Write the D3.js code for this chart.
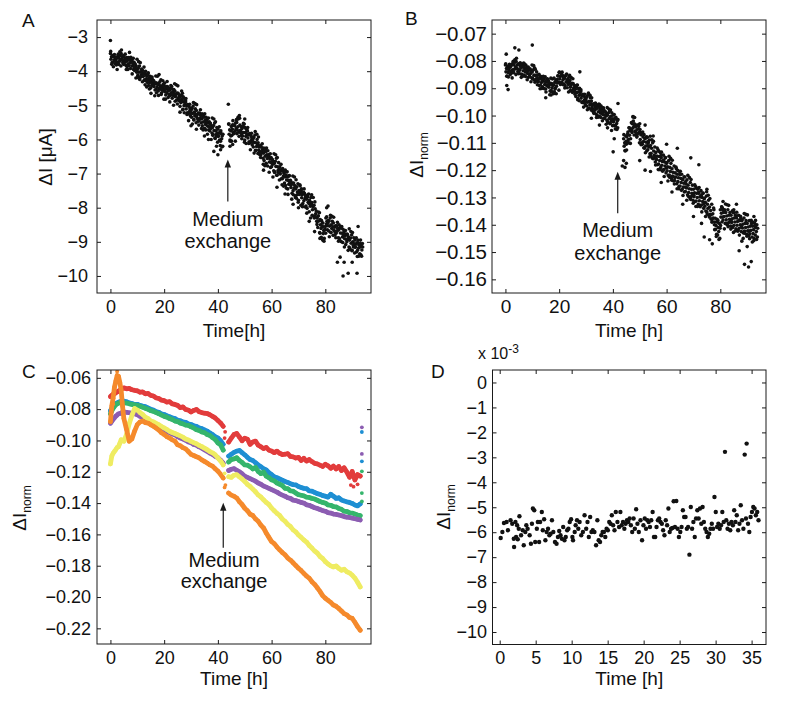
<!DOCTYPE html>
<html><head><meta charset="utf-8">
<script src="https://cdn.jsdelivr.net/npm/d3@7"></script>
<style>
body{margin:0;background:#fff}
text{font-family:"Liberation Sans",Arial,Helvetica,sans-serif;fill:#111}
</style>
</head><body>
<svg id="chart" width="800" height="704"></svg>
<script>
// ---------- DATA ----------
// sub-sample times inside each hour for the dense panels A and B
const subOffsets = [0, 0.2, 0.4, 0.6, 0.8];
const subOffsets2 = [0.1, 0.5, 0.9];

// Panel A: [hour, five readings of ΔI in µA]
const aRows = [
[0,-3.48,-3.65,-3.58,-3.75,-3.54],[1,-3.73,-3.55,-3.67,-3.60,-3.78],[2,-3.66,-3.82,-3.61,-3.73,-3.55],
[3,-3.79,-3.62,-3.71,-3.54,-3.66],[4,-3.48,-3.65,-3.58,-3.75,-3.54],[5,-3.78,-3.60,-3.72,-3.65,-3.83],
[6,-3.71,-3.87,-3.66,-3.78,-3.60],[7,-3.84,-3.67,-3.76,-3.59,-3.71],[8,-3.68,-3.85,-3.78,-3.95,-3.74],
[9,-3.98,-3.80,-3.92,-3.85,-4.03],[10,-3.96,-4.12,-3.91,-4.03,-3.85],[11,-4.19,-4.02,-4.11,-3.94,-4.06],
[12,-3.98,-4.15,-4.08,-4.25,-4.04],[13,-4.28,-4.10,-4.22,-4.15,-4.33],[14,-4.26,-4.42,-4.21,-4.33,-4.15],
[15,-4.49,-4.32,-4.41,-4.24,-4.36],[16,-4.28,-4.45,-4.38,-4.55,-4.34],[17,-4.53,-4.35,-4.47,-4.40,-4.58],
[18,-4.36,-4.52,-4.31,-4.43,-4.25],[19,-4.64,-4.47,-4.56,-4.39,-4.51],[20,-4.43,-4.60,-4.53,-4.70,-4.49],
[21,-4.63,-4.45,-4.57,-4.50,-4.68],[22,-4.56,-4.72,-4.51,-4.63,-4.45],[23,-4.79,-4.62,-4.71,-4.54,-4.66],
[24,-4.58,-4.75,-4.68,-4.85,-4.64],[25,-4.83,-4.65,-4.77,-4.70,-4.88],[26,-4.76,-4.92,-4.71,-4.83,-4.65],
[27,-5.12,-4.90,-5.01,-4.80,-4.96],[28,-4.90,-5.11,-5.02,-5.22,-4.98],[29,-5.25,-5.03,-5.18,-5.10,-5.31],
[30,-5.15,-5.35,-5.09,-5.24,-5.02],[31,-5.42,-5.20,-5.31,-5.10,-5.26],[32,-5.15,-5.36,-5.27,-5.47,-5.23],
[33,-5.45,-5.23,-5.38,-5.30,-5.51],[34,-5.40,-5.60,-5.34,-5.49,-5.27],[35,-5.67,-5.45,-5.56,-5.35,-5.51],
[36,-5.40,-5.61,-5.52,-5.72,-5.48],[37,-5.75,-5.53,-5.68,-5.60,-5.81],[38,-5.65,-5.85,-5.59,-5.74,-5.52],
[39,-5.97,-5.75,-5.86,-5.65,-5.81],[40,-5.70,-5.91,-5.82,-6.02,-5.78],[41,-6.05,-5.83,-5.98,-5.90,-6.20],
[44,-5.55,-5.85,-5.72,-6.05,-5.90],[45,-5.62,-5.88,-5.70,-5.45,-5.80],[46,-5.82,-5.60,-5.75,-5.52,-5.68],
[47,-5.50,-5.72,-5.63,-5.40,-5.78],[48,-5.78,-5.58,-5.73,-5.62,-5.88],[49,-5.68,-5.90,-5.62,-5.80,-5.55],
[50,-6.02,-5.80,-5.91,-5.70,-5.86],[51,-5.75,-5.96,-5.87,-6.07,-5.83],[52,-6.10,-5.88,-6.03,-5.95,-6.16],
[53,-6.00,-6.22,-5.94,-6.09,-5.87],[54,-6.32,-6.10,-6.21,-6.00,-6.16],[55,-6.10,-6.31,-6.22,-6.45,-6.18],
[56,-6.45,-6.23,-6.38,-6.30,-6.55],[57,-6.40,-6.62,-6.34,-6.49,-6.27],[58,-6.70,-6.45,-6.56,-6.33,-6.51],
[59,-6.45,-6.66,-6.57,-6.82,-6.53],[60,-6.80,-6.58,-6.73,-6.65,-6.92],[61,-6.70,-6.95,-6.64,-6.79,-6.55],
[62,-7.05,-6.80,-6.91,-6.68,-6.86],[63,-6.80,-7.01,-6.92,-7.15,-6.88],[64,-7.15,-6.93,-7.08,-7.00,-7.28],
[65,-7.10,-7.35,-7.04,-7.19,-6.95],[66,-7.45,-7.20,-7.31,-7.06,-7.26],[67,-7.20,-7.41,-7.32,-7.58,-7.28],
[68,-7.50,-7.28,-7.43,-7.35,-7.65],[69,-7.45,-7.72,-7.39,-7.54,-7.30],[70,-7.78,-7.50,-7.61,-7.36,-7.56],
[71,-7.50,-7.71,-7.62,-7.88,-7.58],[72,-7.80,-7.58,-7.73,-7.65,-7.95],[73,-7.75,-8.02,-7.69,-7.84,-7.60],
[74,-8.12,-7.85,-7.96,-7.70,-7.91],[75,-7.85,-8.06,-7.97,-8.25,-7.93],[76,-8.25,-8.03,-8.18,-8.10,-8.40],
[77,-8.30,-8.58,-8.24,-8.39,-8.15],[78,-8.75,-8.50,-8.61,-8.38,-8.56],[79,-8.55,-8.76,-8.67,-8.90,-8.63],
[80,-8.55,-8.30,-8.48,-8.40,-8.65],[81,-8.45,-8.68,-8.39,-8.54,-8.30],[82,-8.72,-8.50,-8.61,-8.40,-8.56],
[83,-8.45,-8.66,-8.57,-8.80,-8.53],[84,-8.75,-8.53,-8.68,-8.60,-8.88],[85,-8.65,-8.90,-8.59,-8.74,-8.55],
[86,-9.00,-8.75,-8.86,-8.63,-8.81],[87,-8.70,-8.91,-8.82,-9.08,-8.78],[88,-9.00,-8.78,-8.93,-8.85,-9.15],
[89,-8.95,-9.22,-8.89,-9.04,-8.80],[90,-9.25,-9.00,-9.11,-8.88,-9.06],[91,-8.95,-9.16,-9.07,-9.30,-9.03],
[92,-9.25,-9.03,-9.18,-9.10,-9.35],[93,-9.15,-9.38,-9.09,-9.24,-9.05]
];
// Panel A: wider-scatter readings [hour, three readings]
const aRows2 = [
[0,-3.42,-3.80,-3.55],[1,-3.87,-3.51,-3.71],[2,-3.60,-3.95,-3.50],[3,-3.80,-3.43,-3.85],[4,-3.38,-3.68,-3.80],
[5,-3.75,-3.50,-3.95],[6,-3.60,-3.95,-3.67],[7,-3.45,-3.92,-3.65],[8,-4.08,-3.62,-3.88],[9,-3.78,-4.20,-3.65],
[10,-4.18,-3.72,-4.24],[11,-3.75,-4.15,-4.31],[12,-4.15,-3.88,-4.40],[13,-4.00,-4.46,-4.10],[14,-4.05,-4.52,-4.25],
[15,-4.65,-4.17,-4.43],[16,-4.28,-4.72,-4.14],[17,-4.63,-4.15,-4.71],[18,-4.10,-4.50,-4.68],[19,-4.55,-4.28,-4.82],
[20,-4.35,-4.82,-4.45],[21,-4.30,-4.77,-4.50],[22,-4.90,-4.42,-4.68],[23,-4.53,-5.00,-4.37],[24,-4.88,-4.40,-4.96],
[25,-4.43,-4.85,-5.03],[26,-4.85,-4.58,-5.13],[27,-4.75,-5.22,-4.85],[28,-4.80,-5.27,-5.00],[29,-5.45,-4.97,-5.23],
[30,-5.08,-5.55,-4.92],[31,-5.43,-4.95,-5.51],[32,-4.98,-5.40,-5.58],[33,-5.40,-5.13,-5.68],[34,-5.25,-5.72,-5.35],
[35,-5.25,-5.72,-5.45],[36,-5.85,-5.37,-5.63],[37,-5.53,-6.00,-5.37],[38,-5.88,-5.40,-5.96],[39,-5.48,-5.90,-6.08],
[40,-5.90,-5.63,-6.18],[41,-5.75,-6.22,-5.85],
[44,-5.55,-6.02,-5.75],[45,-6.05,-5.57,-5.83],[46,-5.58,-6.05,-5.42],[47,-5.83,-5.35,-5.91],[48,-5.38,-5.80,-5.98],
[49,-5.80,-5.53,-6.08],[50,-5.65,-6.12,-5.75],[51,-5.65,-6.12,-5.85],[52,-6.30,-5.82,-6.08],[53,-5.93,-6.40,-5.77],
[54,-6.33,-5.85,-6.41],[55,-5.93,-6.35,-6.53],[56,-6.40,-6.13,-6.73],[57,-6.25,-6.77,-6.35],[58,-6.25,-6.78,-6.45],
[59,-6.96,-6.42,-6.68],[60,-6.58,-7.10,-6.42],[61,-6.97,-6.45,-7.05],[62,-6.53,-6.97,-7.19],[63,-7.00,-6.73,-7.33],
[64,-6.85,-7.37,-6.95],[65,-6.90,-7.43,-7.10],[66,-7.61,-7.07,-7.33],[67,-7.23,-7.75,-7.07],[68,-7.62,-7.10,-7.70],
[69,-7.18,-7.62,-7.84],[70,-7.60,-7.33,-7.93],[71,-7.45,-7.97,-7.55],[72,-7.45,-7.98,-7.65],[73,-8.16,-7.62,-7.88],
[74,-7.78,-8.30,-7.62],[75,-8.22,-7.70,-8.30],[76,-7.83,-8.27,-8.49],[77,-8.40,-8.13,-8.73],[78,-8.35,-8.87,-8.45],
[79,-8.45,-8.98,-8.65],[80,-8.75,-8.27,-8.53],[81,-8.38,-8.85,-8.22],[82,-8.73,-8.25,-8.81],[83,-8.28,-8.70,-8.88],
[84,-8.70,-8.43,-8.98],[85,-8.50,-8.97,-8.60],[86,-8.55,-9.02,-8.75],[87,-9.15,-8.67,-8.93],[88,-8.78,-9.25,-8.62],
[89,-9.18,-8.70,-9.26],[90,-8.73,-9.15,-9.33],[91,-9.15,-8.88,-9.43],[92,-8.95,-9.42,-9.05],[93,-8.95,-9.42,-9.15]
];
// Panel A: isolated readings [time, ΔI]
const aExtra = [[0,-3.1],[25.9,-5.2],[43.9,-4.97],[38.5,-6.35],[40,-6.45],[41,-6.3],[39.5,-6.2],[35,-5.9],
[36.5,-6.0],[44.5,-6.2],[45.5,-6.15],[30,-5.6],[32,-5.7],[48,-5.3],[50,-5.4],[62,-7.4],[65,-7.6],[70,-8.0],
[74,-8.4],[78,-8.9],[79,-8.95],[80.5,-8.0],[81,-7.95],[86.6,-10.0],[88.5,-9.92],[91.8,-9.92],[87,-9.6],
[90,-9.6],[92.2,-8.55],[84.5,-9.6],[85.5,-9.45],[76,-8.7],[57,-6.9],[68,-7.9]];

// Panel B: [hour, five readings of ΔI_norm]
const bRows = [
[0,-.0815,-.0840,-.0828,-.0855,-.0822],[1,-.0842,-.0818,-.0835,-.0824,-.0850],[2,-.0820,-.0845,-.0812,-.0832,-.0808],
[3,-.0840,-.0815,-.0830,-.0805,-.0822],[4,-.0802,-.0826,-.0815,-.0840,-.0810],[5,-.0840,-.0812,-.0832,-.0820,-.0848],
[6,-.0824,-.0850,-.0815,-.0836,-.0808],[7,-.0852,-.0828,-.0840,-.0815,-.0836],[8,-.0822,-.0846,-.0837,-.0860,-.0832],
[9,-.0855,-.0830,-.0846,-.0838,-.0862],[10,-.0840,-.0866,-.0832,-.0852,-.0825],[11,-.0878,-.0853,-.0866,-.0840,-.0862],
[12,-.0852,-.0876,-.0867,-.0890,-.0862],[13,-.0888,-.0863,-.0879,-.0870,-.0895],[14,-.0874,-.0900,-.0865,-.0886,-.0858],
[15,-.0903,-.0878,-.0891,-.0865,-.0887],[16,-.0872,-.0896,-.0887,-.0910,-.0882],[17,-.0908,-.0883,-.0899,-.0890,-.0915],
[18,-.0887,-.0913,-.0878,-.0899,-.0871],[19,-.0893,-.0868,-.0881,-.0855,-.0877],[20,-.0842,-.0866,-.0857,-.0880,-.0852],
[21,-.0878,-.0853,-.0869,-.0860,-.0885],[22,-.0864,-.0890,-.0855,-.0876,-.0848],[23,-.0898,-.0873,-.0886,-.0860,-.0882],
[24,-.0872,-.0896,-.0887,-.0910,-.0882],[25,-.0908,-.0883,-.0899,-.0890,-.0915],[26,-.0904,-.0930,-.0895,-.0916,-.0888],
[27,-.0938,-.0913,-.0926,-.0900,-.0922],[28,-.0912,-.0936,-.0927,-.0950,-.0922],[29,-.0953,-.0928,-.0944,-.0935,-.0960],
[30,-.0939,-.0965,-.0930,-.0951,-.0923],[31,-.0973,-.0948,-.0961,-.0935,-.0957],[32,-.0947,-.0971,-.0962,-.0985,-.0957],
[33,-.0988,-.0963,-.0979,-.0970,-.0995],[34,-.0974,-.1000,-.0965,-.0986,-.0958],[35,-.1003,-.0978,-.0991,-.0965,-.0987],
[36,-.0972,-.0996,-.0987,-.1010,-.0982],[37,-.1011,-.0986,-.1002,-.0993,-.1018],[38,-.0999,-.1025,-.0990,-.1011,-.0983],
[39,-.1028,-.1003,-.1016,-.0990,-.1012],[40,-.0999,-.1023,-.1014,-.1037,-.1009],[41,-.1038,-.1013,-.1029,-.1020,-.1045],
[44,-.1085,-.1112,-.1100,-.1130,-.1075],[45,-.1105,-.1078,-.1095,-.1060,-.1088],[46,-.1045,-.1072,-.1055,-.1085,-.1050],
[47,-.1055,-.1030,-.1046,-.1020,-.1040],[48,-.1030,-.1058,-.1042,-.1070,-.1035],[49,-.1075,-.1050,-.1065,-.1040,-.1062],
[50,-.1060,-.1088,-.1070,-.1100,-.1065],[51,-.1105,-.1078,-.1095,-.1070,-.1120],[52,-.1085,-.1112,-.1098,-.1130,-.1080],
[53,-.1125,-.1100,-.1115,-.1090,-.1140],[54,-.1110,-.1138,-.1120,-.1155,-.1100],[55,-.1158,-.1130,-.1145,-.1115,-.1170],
[56,-.1135,-.1162,-.1148,-.1180,-.1125],[57,-.1178,-.1150,-.1165,-.1135,-.1190],[58,-.1155,-.1182,-.1168,-.1200,-.1145],
[59,-.1198,-.1170,-.1185,-.1155,-.1210],[60,-.1175,-.1202,-.1188,-.1220,-.1165],[61,-.1218,-.1190,-.1205,-.1175,-.1230],
[62,-.1195,-.1222,-.1208,-.1240,-.1185],[63,-.1238,-.1210,-.1225,-.1195,-.1250],[64,-.1215,-.1242,-.1228,-.1260,-.1205],
[65,-.1258,-.1230,-.1245,-.1215,-.1270],[66,-.1235,-.1262,-.1248,-.1280,-.1225],[67,-.1278,-.1250,-.1265,-.1235,-.1290],
[68,-.1255,-.1282,-.1268,-.1300,-.1245],[69,-.1298,-.1270,-.1285,-.1255,-.1310],[70,-.1270,-.1297,-.1283,-.1315,-.1260],
[71,-.1313,-.1285,-.1300,-.1270,-.1325],[72,-.1285,-.1312,-.1298,-.1330,-.1275],[73,-.1328,-.1300,-.1315,-.1285,-.1340],
[74,-.1305,-.1332,-.1318,-.1350,-.1295],[75,-.1353,-.1325,-.1340,-.1310,-.1365],[76,-.1335,-.1362,-.1348,-.1380,-.1325],
[77,-.1388,-.1360,-.1375,-.1345,-.1400],[78,-.1390,-.1417,-.1403,-.1435,-.1380],[79,-.1438,-.1410,-.1425,-.1395,-.1450],
[80,-.1345,-.1372,-.1358,-.1390,-.1340],[81,-.1383,-.1355,-.1370,-.1345,-.1395],[82,-.1355,-.1382,-.1368,-.1400,-.1345],
[83,-.1393,-.1365,-.1380,-.1355,-.1405],[84,-.1365,-.1392,-.1378,-.1410,-.1355],[85,-.1403,-.1375,-.1390,-.1365,-.1415],
[86,-.1375,-.1402,-.1388,-.1420,-.1365],[87,-.1413,-.1385,-.1400,-.1375,-.1425],[88,-.1385,-.1412,-.1398,-.1430,-.1375],
[89,-.1423,-.1395,-.1410,-.1385,-.1435],[90,-.1395,-.1422,-.1408,-.1440,-.1385],[91,-.1433,-.1405,-.1420,-.1395,-.1445],
[92,-.1405,-.1432,-.1418,-.1450,-.1395],[93,-.1438,-.1410,-.1425,-.1400,-.1445]
];
// Panel B: wider-scatter readings [hour, three readings]
const bRows2 = [
[0,-.0810,-.0856,-.0829],[1,-.0859,-.0812,-.0838],[2,-.0816,-.0862,-.0801],[3,-.0843,-.0796,-.0850],[4,-.0790,-.0830,-.0847],
[5,-.0833,-.0807,-.0860],[6,-.0811,-.0856,-.0820],[7,-.0811,-.0857,-.0830],[8,-.0869,-.0822,-.0848],[9,-.0830,-.0876,-.0815],
[10,-.0864,-.0817,-.0871],[11,-.0830,-.0870,-.0887],[12,-.0875,-.0849,-.0902],[13,-.0856,-.0901,-.0865],[14,-.0856,-.0902,-.0875],
[15,-.0914,-.0867,-.0893],[16,-.0878,-.0924,-.0863],[17,-.0913,-.0866,-.0920],[18,-.0863,-.0903,-.0920],[19,-.0880,-.0854,-.0907],
[20,-.0841,-.0886,-.0850],[21,-.0841,-.0887,-.0860],[22,-.0899,-.0852,-.0878],[23,-.0868,-.0914,-.0853],[24,-.0908,-.0861,-.0915],
[25,-.0865,-.0905,-.0922],[26,-.0915,-.0889,-.0942],[27,-.0901,-.0946,-.0910],[28,-.0906,-.0952,-.0925],[29,-.0969,-.0922,-.0948],
[30,-.0933,-.0979,-.0918],[31,-.0973,-.0926,-.0980],[32,-.0935,-.0975,-.0992],[33,-.0980,-.0954,-.1007],[34,-.0961,-.1006,-.0970],
[35,-.0961,-.1007,-.0980],[36,-.1019,-.0972,-.0998],[37,-.0986,-.1032,-.0971],[38,-.1023,-.0976,-.1030],[39,-.0980,-.1020,-.1037],
[40,-.1022,-.0996,-.1049],[41,-.1006,-.1051,-.1015],
[44,-.1070,-.1128,-.1094],[45,-.1126,-.1068,-.1100],[46,-.1045,-.1102,-.1026],[47,-.1062,-.1004,-.1071],[48,-.1007,-.1057,-.1079],
[49,-.1066,-.1034,-.1100],[50,-.1051,-.1107,-.1063],[51,-.1060,-.1118,-.1084],[52,-.1136,-.1078,-.1110],[53,-.1095,-.1152,-.1076],
[54,-.1147,-.1089,-.1156],[55,-.1094,-.1154,-.1181],[56,-.1157,-.1119,-.1198],[57,-.1131,-.1198,-.1146],[58,-.1134,-.1204,-.1163],
[59,-.1223,-.1154,-.1192],[60,-.1172,-.1240,-.1149],[61,-.1226,-.1157,-.1237],[62,-.1164,-.1224,-.1251],[63,-.1227,-.1189,-.1268],
[64,-.1201,-.1268,-.1216],[65,-.1204,-.1274,-.1233],[66,-.1293,-.1224,-.1262],[67,-.1242,-.1310,-.1219],[68,-.1296,-.1227,-.1307],
[69,-.1234,-.1294,-.1321],[70,-.1292,-.1254,-.1333],[71,-.1266,-.1333,-.1281],[72,-.1264,-.1334,-.1293],[73,-.1353,-.1284,-.1322],
[74,-.1302,-.1370,-.1279],[75,-.1361,-.1292,-.1372],[76,-.1304,-.1364,-.1391],[77,-.1377,-.1339,-.1418],[78,-.1376,-.1443,-.1391],
[79,-.1384,-.1454,-.1413],[80,-.1403,-.1334,-.1372],[81,-.1347,-.1415,-.1324],[82,-.1396,-.1327,-.1407],[83,-.1329,-.1389,-.1416],
[84,-.1387,-.1349,-.1428],[85,-.1356,-.1423,-.1371],[86,-.1354,-.1424,-.1383],[87,-.1438,-.1369,-.1407],[88,-.1382,-.1450,-.1359],
[89,-.1431,-.1362,-.1442],[90,-.1364,-.1424,-.1451],[91,-.1422,-.1384,-.1463],[92,-.1391,-.1458,-.1406],[93,-.1384,-.1454,-.1413]
];
const bExtra = [[0.3,-.0775],[0.5,-.0890],[1,-.0905],[3.5,-.0752],[5,-.0760],[10,-.0742],[15,-.0935],[17,-.0925],
[27.7,-.0840],[32,-.1010],[35,-.1035],[38,-.1045],[39.5,-.1055],[40.5,-.1085],[40.1,-.1133],[41.9,-.0956],
[44,-.1165],[44.5,-.1190],[45,-.1175],[43.5,-.1185],[47.5,-.1005],[50,-.1030],[52,-.1035],[55,-.1075],[60,-.1105],
[64,-.1120],[69,-.1155],[72,-.1180],[75,-.1270],[50,-.1165],[52,-.1200],[54,-.1205],[58,-.1245],[62,-.1280],
[66,-.1325],[70,-.1370],[73,-.1395],[76,-.1455],[77,-.1470],[80.5,-.1335],[81,-.1315],[85,-.1345],[86,-.1325],
[88,-.1460],[89,-.1545],[90.5,-.1555],[91.5,-.1535],[87,-.1495],[92.5,-.1370],[90,-.1480],[74,-.1445]];

// Panel C: common time grid and six series
const cTime = [0,.5,1,1.5,2,2.5,3,3.5,4,4.5,5,6,7,8,9,10,11,12,13,14,15,16,17,18,19,20,21,22,23,24,25,26,27,28,29,30,
31,32,33,34,35,36,37,38,39,40,41,42,44,45,46,47,48,49,50,51,52,53,54,55,56,57,58,59,60,61,62,63,64,65,66,67,68,69,
70,71,72,73,74,75,76,77,78,79,80,81,82,83,84,85,86,87,88,89,90,91,92,93];
const cBlue = [-.0810,-.0795,-.0780,-.0772,-.0765,-.0760,-.0756,-.0752,-.0750,-.0751,-.0749,
-.0753,-.0760,-.0764,-.0770,-.0769,-.0776,-.0781,-.0784,-.0792,-.0800,-.0806,-.0816,-.0820,-.0830,-.0834,-.0842,-.0848,
-.0856,-.0860,-.0870,-.0874,-.0882,-.0884,-.0894,-.0898,-.0906,-.0910,-.0920,-.0924,-.0932,-.0940,-.0952,-.0962,-.0976,
-.0984,-.1002,-.1025,
-.1100,-.1088,-.1076,-.1068,-.1064,-.1078,-.1092,-.1108,-.1122,-.1128,-.1142,-.1156,-.1168,-.1180,-.1188,-.1206,-.1218,
-.1232,-.1238,-.1246,-.1254,-.1262,-.1268,-.1276,-.1282,-.1284,-.1294,-.1300,-.1306,-.1308,-.1322,-.1324,-.1332,-.1340,
-.1344,-.1352,-.1356,-.1362,-.1344,-.1356,-.1370,-.1366,-.1380,-.1386,-.1392,-.1396,-.1402,-.1412,-.1418,-.1405];
const cGreen = [-.0830,-.0812,-.0795,-.0782,-.0772,-.0766,-.0762,-.0758,-.0757,-.0759,-.0760,
-.0761,-.0766,-.0770,-.0773,-.0776,-.0782,-.0788,-.0795,-.0801,-.0810,-.0814,-.0822,-.0829,-.0838,-.0846,-.0851,-.0860,
-.0866,-.0876,-.0879,-.0889,-.0894,-.0902,-.0904,-.0913,-.0920,-.0931,-.0936,-.0946,-.0950,-.0962,-.0968,-.0982,-.0994,
-.1016,-.1028,-.1062,
-.1138,-.1122,-.1118,-.1110,-.1128,-.1140,-.1156,-.1158,-.1168,-.1182,-.1172,-.1198,-.1212,-.1202,-.1228,-.1238,-.1252,
-.1258,-.1272,-.1280,-.1288,-.1306,-.1308,-.1322,-.1324,-.1336,-.1346,-.1350,-.1354,-.1362,-.1364,-.1370,-.1374,-.1382,
-.1390,-.1396,-.1400,-.1412,-.1414,-.1422,-.1424,-.1434,-.1440,-.1452,-.1454,-.1462,-.1464,-.1470,-.1476,-.1480];
const cRed = [-.0720,-.0712,-.0705,-.0702,-.0695,-.0690,-.0684,-.0680,-.0672,-.0668,-.0664,
-.0670,-.0668,-.0676,-.0680,-.0683,-.0692,-.0690,-.0702,-.0700,-.0712,-.0716,-.0728,-.0732,-.0742,-.0746,-.0755,-.0752,
-.0766,-.0770,-.0776,-.0790,-.0786,-.0802,-.0806,-.0818,-.0808,-.0802,-.0816,-.0822,-.0826,-.0828,-.0836,-.0846,-.0856,
-.0872,-.0888,-.0910,
-.1010,-.0985,-.0962,-.0955,-.0978,-.1002,-.0985,-.0992,-.1025,-.1010,-.1004,-.1030,-.1040,-.1052,-.1044,-.1062,-.1068,
-.1078,-.1068,-.1082,-.1090,-.1088,-.1084,-.1102,-.1105,-.1112,-.1108,-.1128,-.1114,-.1132,-.1122,-.1135,-.1146,-.1150,
-.1158,-.1166,-.1152,-.1162,-.1178,-.1164,-.1182,-.1166,-.1192,-.1174,-.1202,-.1235,-.1198,-.1252,-.1218,-.1228];
const cPurple = [-.0890,-.0878,-.0866,-.0855,-.0845,-.0838,-.0830,-.0828,-.0825,-.0820,-.0818,
-.0820,-.0823,-.0826,-.0830,-.0836,-.0846,-.0854,-.0866,-.0874,-.0886,-.0892,-.0902,-.0910,-.0921,-.0930,-.0941,-.0949,
-.0959,-.0964,-.0976,-.0984,-.0991,-.0999,-.1009,-.1015,-.1026,-.1030,-.1041,-.1049,-.1060,-.1069,-.1081,-.1089,-.1101,
-.1110,-.1126,-.1145,
-.1192,-.1184,-.1180,-.1190,-.1200,-.1212,-.1228,-.1236,-.1244,-.1252,-.1260,-.1272,-.1280,-.1291,-.1298,-.1306,-.1314,
-.1322,-.1330,-.1341,-.1349,-.1356,-.1366,-.1370,-.1381,-.1384,-.1390,-.1396,-.1400,-.1411,-.1414,-.1422,-.1430,-.1434,
-.1441,-.1448,-.1452,-.1461,-.1464,-.1470,-.1472,-.1476,-.1480,-.1486,-.1490,-.1492,-.1496,-.1500,-.1504,-.1508];
const cYellow = [-.1150,-.1100,-.1082,-.1070,-.1058,-.1045,-.1040,-.1018,-.0995,-.1000,-.1005,
-.0962,-.0892,-.0840,-.0796,-.0806,-.0822,-.0834,-.0851,-.0860,-.0876,-.0881,-.0891,-.0899,-.0911,-.0920,-.0930,-.0941,
-.0949,-.0956,-.0963,-.0971,-.0979,-.0991,-.0997,-.1006,-.1014,-.1021,-.1031,-.1039,-.1049,-.1059,-.1071,-.1079,-.1091,
-.1111,-.1131,-.1156,
-.1232,-.1236,-.1222,-.1218,-.1232,-.1246,-.1262,-.1281,-.1294,-.1311,-.1328,-.1348,-.1361,-.1379,-.1396,-.1409,-.1432,
-.1449,-.1466,-.1479,-.1502,-.1516,-.1536,-.1549,-.1571,-.1584,-.1604,-.1619,-.1636,-.1649,-.1671,-.1687,-.1706,-.1719,
-.1741,-.1754,-.1774,-.1789,-.1801,-.1808,-.1801,-.1817,-.1829,-.1822,-.1839,-.1846,-.1860,-.1879,-.1906,-.1936];
const cOrange = [-.0880,-.0780,-.0730,-.0660,-.0620,-.0585,-.0590,-.0630,-.0680,-.0780,-.0860,
-.0930,-.1005,-.0990,-.0940,-.0899,-.0882,-.0876,-.0886,-.0889,-.0900,-.0909,-.0921,-.0934,-.0951,-.0962,-.0976,-.0984,
-.0996,-.1004,-.1028,-.1034,-.1046,-.1054,-.1071,-.1089,-.1096,-.1104,-.1111,-.1124,-.1134,-.1144,-.1156,-.1164,-.1181,
-.1196,-.1216,-.1240,
-.1336,-.1349,-.1356,-.1367,-.1391,-.1409,-.1433,-.1449,-.1471,-.1479,-.1501,-.1516,-.1541,-.1559,-.1591,-.1619,-.1646,
-.1659,-.1681,-.1699,-.1716,-.1730,-.1751,-.1764,-.1781,-.1799,-.1816,-.1831,-.1849,-.1866,-.1879,-.1902,-.1919,-.1941,
-.1964,-.1991,-.2008,-.2021,-.2034,-.2051,-.2059,-.2073,-.2089,-.2106,-.2114,-.2131,-.2136,-.2161,-.2189,-.2212];
const cSeriesNames = ["blue","green","red","purple","yellow","orange"];
const cColors = {red:"#e23c3c",blue:"#1e8fd3",green:"#35b56c",purple:"#8c5db2",yellow:"#efec62",orange:"#f58a2c"};
// Panel C: isolated readings [series, time, value]
const cExtra = [["red",42.5,-.0985],["red",42.7,-.0945],["orange",42.5,-.1300],["orange",42.8,-.1285],
["yellow",42.5,-.1210],["orange",2.5,-.0560],["orange",1,-.0768],["red",89.5,-.1285],["red",90.5,-.1295],["red",92,-.1280],
["purple",93.6,-.0916],["blue",93.6,-.0946],["purple",93.6,-.1086],["blue",93.6,-.1133],["green",93.6,-.1197],
["green",93.6,-.1336],["green",93.6,-.1390]];

// Panel D: time [h] and ΔI_norm [x 10^-3]
const dTime = [0.14,0.37,0.59,0.96,1.14,1.51,1.74,1.96,2.0,2.19,2.42,2.65,2.28,2.51,2.74,2.97,3.2,3.34,3.56,3.7,3.88,4.16,
4.34,4.48,4.61,4.8,4.93,5.16,5.3,5.48,5.62,5.85,5.99,6.17,6.35,6.53,6.72,6.9,7.08,7.26,7.45,7.68,7.9,8.09,8.27,8.45,8.64,
8.82,9.0,9.18,9.37,9.55,9.73,9.92,10.1,10.19,10.42,10.55,10.74,10.92,11.1,11.33,11.56,11.79,12.02,12.2,12.38,12.57,12.75,
12.93,13.16,13.39,13.57,13.75,13.94,14.12,14.3,14.48,14.67,14.85,15.03,15.22,15.4,15.58,15.76,15.95,16.13,16.36,16.59,
16.77,16.95,17.13,17.32,17.5,17.68,17.87,18.05,18.23,18.41,18.6,18.78,18.96,19.14,19.33,19.56,19.78,19.97,20.15,20.33,
20.52,20.7,20.88,21.06,21.25,21.43,21.61,21.79,21.98,22.16,22.34,22.53,22.71,22.89,23.07,23.26,23.44,23.62,23.81,23.99,
24.17,24.35,24.54,24.72,24.9,25.09,25.27,25.45,25.63,25.82,26.0,26.18,26.36,26.55,26.73,26.91,27.1,27.28,27.46,27.64,
27.83,28.01,28.19,28.37,28.56,28.74,28.92,29.11,29.29,29.47,29.65,29.84,30.02,30.2,30.38,30.57,30.75,30.93,31.12,31.3,
31.48,31.66,31.85,32.03,32.21,32.4,32.58,32.76,32.94,33.13,33.31,33.49,33.67,33.86,34.04,34.22,34.31,34.5,34.68,34.86,
35.05,35.23,35.41,35.59,35.78,35.96];
const dVal = [-6.23,-5.99,-5.63,-5.59,-5.92,-5.52,-5.66,-6.26,-6.59,-5.59,-5.72,-5.86,-6.19,-6.28,-5.36,-6.12,-5.92,-6.52,
-5.99,-5.72,-5.86,-6.12,-6.46,-5.66,-5.05,-5.12,-6.39,-5.86,-5.59,-6.39,-5.59,-5.19,-5.92,-5.48,-6.32,-5.99,-5.86,-6.12,
-6.06,-5.52,-5.99,-6.39,-6.46,-6.19,-5.95,-6.12,-6.26,-5.79,-6.32,-6.19,-5.92,-5.86,-5.59,-5.48,-6.19,-6.32,-5.99,-5.72,
-5.52,-5.86,-5.59,-6.12,-5.99,-5.32,-5.86,-5.59,-6.19,-5.39,-5.99,-5.92,-5.99,-6.52,-5.52,-6.32,-6.39,-6.12,-5.99,-5.99,
-6.19,-5.86,-5.92,-5.59,-5.66,-5.32,-5.72,-5.92,-5.19,-5.59,-5.79,-5.19,-5.72,-5.59,-5.86,-5.66,-5.52,-5.59,-5.45,-5.72,
-5.99,-5.45,-5.86,-5.08,-5.66,-5.99,-5.52,-6.32,-5.72,-5.45,-5.86,-5.52,-5.59,-5.79,-5.52,-5.19,-6.19,-6.19,-5.79,-5.52,
-5.45,-5.59,-5.66,-5.92,-6.12,-5.52,-5.72,-5.05,-5.99,-5.86,-5.83,-4.76,-5.79,-4.75,-5.86,-6.19,-5.99,-5.79,-5.12,-5.39,
-5.39,-5.86,-5.79,-6.90,-4.99,-5.86,-5.59,-6.19,-5.45,-5.12,-5.45,-5.05,-5.66,-4.99,-5.59,-5.86,-5.99,-6.19,-6.06,-5.86,
-5.66,-5.86,-4.59,-5.19,-5.79,-5.66,-5.86,-5.72,-5.19,-5.59,-2.78,-5.52,-5.86,-5.66,-5.92,-5.59,-5.72,-5.12,-5.59,-5.32,
-5.92,-5.66,-4.92,-5.52,-5.86,-2.89,-5.45,-2.45,-5.66,-5.99,-5.39,-5.19,-4.99,-5.05,-5.32,-5.19,-5.52];

// tick values
const xTicksLong = [0,20,40,60,80];
const xTicksD = [0,5,10,15,20,25,30,35];
const yTicksA = [-10,-9,-8,-7,-6,-5,-4,-3];
const yTicksB = [-.16,-.15,-.14,-.13,-.12,-.11,-.10,-.09,-.08,-.07];
const yTicksC = [-.22,-.20,-.18,-.16,-.14,-.12,-.10,-.08,-.06];
const yTicksD = [-10,-9,-8,-7,-6,-5,-4,-3,-2,-1,0];

// annotation anchors in data units
const annA = {t:43.7, head:-6.59, tail:-7.82, l1:-8.55, l2:-9.17};
const annB = {t:41.8, head:-.1206, tail:-.1358, l1:-.1445, l2:-.1529};
const annC = {t:42.0, tt:42.3, head:-.1398, tail:-.1686, l1:-.1810, l2:-.1944};

// ---------- DRAW ----------
const svg = d3.select("#chart");
svg.append("rect").attr("width",800).attr("height",704).attr("fill","#fff");
const ink = "#1a1a1a";

function makePanel(c){
  const x = d3.scaleLinear().domain(c.xd).range([c.l,c.r]);
  const y = d3.scaleLinear().domain(c.yd).range([c.b,c.t]);
  const g = svg.append("g");
  const cid = "clip"+c.name;
  svg.append("clipPath").attr("id",cid).append("rect")
     .attr("x",c.l).attr("y",c.t).attr("width",c.r-c.l).attr("height",c.b-c.t);
  const plot = g.append("g").attr("clip-path",`url(#${cid})`);
  const axes = g.append("g");
  const style = fs => sel => { sel.select(".domain").remove();
    sel.selectAll(".tick line").attr("stroke",ink);
    sel.selectAll("text").attr("font-size",fs).attr("fill",ink)
      .attr("font-family",'"Liberation Sans",Arial,sans-serif'); };
  axes.append("g").attr("transform",`translate(0,${c.b})`)
    .call(d3.axisBottom(x).tickValues(c.xt).tickFormat(d3.format("d")).tickSizeInner(-4).tickSizeOuter(0).tickPadding(7))
    .call(style(c.xfs||18));
  axes.append("g").attr("transform",`translate(0,${c.t})`)
    .call(d3.axisTop(x).tickValues(c.xt).tickFormat("").tickSizeInner(-4).tickSizeOuter(0)).call(style(18));
  axes.append("g").attr("transform",`translate(${c.l},0)`)
    .call(d3.axisLeft(y).tickValues(c.yt).tickFormat(c.yf).tickSizeInner(-4).tickSizeOuter(0).tickPadding(c.yp))
    .call(style(c.yfs||18));
  axes.append("g").attr("transform",`translate(${c.r},0)`)
    .call(d3.axisRight(y).tickValues(c.yt).tickFormat("").tickSizeInner(-4).tickSizeOuter(0)).call(style(18));
  g.append("rect").attr("x",c.l).attr("y",c.t).attr("width",c.r-c.l).attr("height",c.b-c.t)
    .attr("fill","none").attr("stroke",ink).attr("stroke-width",1);
  svg.append("text").attr("x",c.lx).attr("y",c.ly).attr("font-size",19).text(c.name);
  svg.append("text").attr("x",(c.l+c.r)/2).attr("y",c.xly).attr("text-anchor","middle").attr("font-size",19).text(c.xlabel);
  const yl = svg.append("text").attr("transform",`translate(${c.ylx},${c.yly}) rotate(-90)`)
    .attr("text-anchor","middle").attr("font-size",19);
  yl.append("tspan").text(c.ylabel);
  if(c.ysub) yl.append("tspan").attr("font-size",12).attr("dy",5).text(c.ysub);
  return {x,y,plot};
}

function annotate(p, a){
  const ax = p.x(a.t), yh = p.y(a.head), yt = p.y(a.tail);
  const g = svg.append("g");
  g.append("line").attr("x1",ax).attr("x2",ax).attr("y1",yt).attr("y2",yh+6).attr("stroke",ink).attr("stroke-width",1.2);
  g.append("path").attr("d",`M${ax},${yh} L${ax-3.2},${yh+8} L${ax+3.2},${yh+8} Z`).attr("fill",ink);
  const tx = p.x(a.tt ?? a.t);
  g.append("text").attr("x",tx).attr("y",p.y(a.l1)).attr("text-anchor","middle").attr("font-size",20).text("Medium");
  g.append("text").attr("x",tx).attr("y",p.y(a.l2)).attr("text-anchor","middle").attr("font-size",20).text("exchange");
}

function densePoints(rows, rows2, extra){
  const pts = [];
  rows.forEach(r => r.slice(1).forEach((v,i) => pts.push([r[0]+subOffsets[i], v])));
  rows2.forEach(r => r.slice(1).forEach((v,i) => pts.push([r[0]+subOffsets2[i], v])));
  extra.forEach(p => pts.push(p));
  return pts;
}

const fmtInt = d3.format("d"), fmt2 = d3.format(".2f");

// Panel A
const pA = makePanel({name:"A",l:97,r:371,t:20,b:293,xd:[-5,97],yd:[-10.5,-2.5],xt:xTicksLong,yt:yTicksA,yf:fmtInt,yp:9,
  lx:22,ly:27,xly:337,xlabel:"Time[h]",ylx:52,yly:157,ylabel:"ΔI [μA]"});
pA.plot.selectAll("circle").data(densePoints(aRows,aRows2,aExtra)).join("circle")
  .attr("cx",d=>pA.x(d[0])).attr("cy",d=>pA.y(d[1])).attr("r",1.8).attr("fill","#111");
annotate(pA, annA);

// Panel B
const pB = makePanel({name:"B",l:492,r:766,t:20,b:293,xd:[-5,97],yd:[-.165,-.065],xt:xTicksLong,yt:yTicksB,yf:fmt2,yp:5,
  yfs:20.5, xfs:19,
  lx:405,ly:25,xly:337,xlabel:"Time [h]",ylx:423,yly:155,ylabel:"ΔI",ysub:"norm"});
pB.plot.selectAll("circle").data(densePoints(bRows,bRows2,bExtra)).join("circle")
  .attr("cx",d=>pB.x(d[0])).attr("cy",d=>pB.y(d[1])).attr("r",1.8).attr("fill","#111");
annotate(pB, annB);

// Panel C
const pC = makePanel({name:"C",l:97,r:371,t:370,b:644,xd:[-5,97],yd:[-.23,-.055],xt:xTicksLong,yt:yTicksC,yf:fmt2,yp:6,
  lx:22,ly:378,xly:685,xlabel:"Time [h]",ylx:26,yly:508,ylabel:"ΔI",ysub:"norm"});
const cData = {blue:cBlue,green:cGreen,red:cRed,purple:cPurple,yellow:cYellow,orange:cOrange};
const line = d3.line().x(d=>pC.x(d[0])).y(d=>pC.y(d[1]));
cSeriesNames.forEach(name => {
  const pts = cTime.map((t,i)=>[t,cData[name][i]]).filter(d=>d[1]!==undefined);
  const col = cColors[name];
  [pts.filter(d=>d[0]<43), pts.filter(d=>d[0]>43)].forEach(seg => {
    pC.plot.append("path").attr("d",line(seg)).attr("fill","none").attr("stroke",col)
      .attr("stroke-width",4.8).attr("stroke-linejoin","round").attr("stroke-linecap","round");
  });
  pC.plot.append("g").selectAll("circle").data(pts).join("circle")
    .attr("cx",d=>pC.x(d[0])).attr("cy",d=>pC.y(d[1])).attr("r",2.2).attr("fill",col);
});
pC.plot.append("g").selectAll("circle").data(cExtra).join("circle")
  .attr("cx",d=>pC.x(d[1])).attr("cy",d=>pC.y(d[2])).attr("r",1.9).attr("fill",d=>cColors[d[0]]);
annotate(pC, annC);

// Panel D
const pD = makePanel({name:"D",l:492.5,r:766,t:370,b:644.5,xd:[-1,37],yd:[-10.5,0.5],xt:xTicksD,yt:yTicksD,yf:fmtInt,yp:5.5,
  lx:431,ly:378,xly:685,xlabel:"Time [h]",ylx:450,yly:507,ylabel:"ΔI",ysub:"norm"});
pD.plot.selectAll("circle").data(dTime.map((t,i)=>[t,dVal[i]])).join("circle")
  .attr("cx",d=>pD.x(d[0])).attr("cy",d=>pD.y(d[1])).attr("r",2.2).attr("fill","#111");
const mult = svg.append("text").attr("x",478).attr("y",359).attr("font-size",16);
mult.append("tspan").text("x 10");
mult.append("tspan").attr("dy",-6).attr("font-size",12).text("-3");
</script>
</body></html>
